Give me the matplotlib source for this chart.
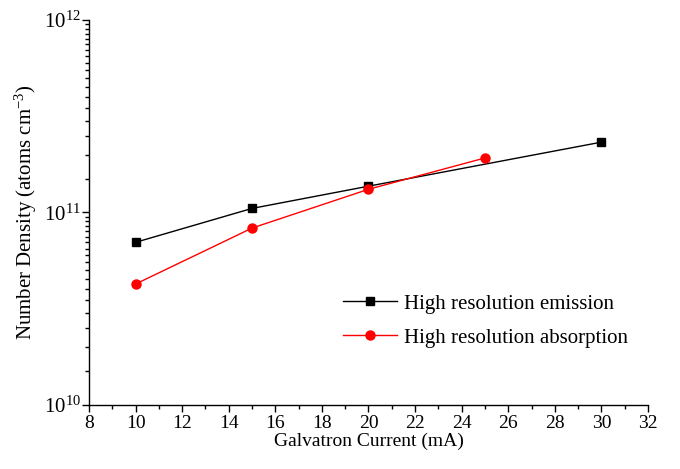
import math
import numpy as np
import matplotlib
matplotlib.use("Agg")
import matplotlib.pyplot as plt
from matplotlib.ticker import LogLocator, FuncFormatter, MultipleLocator, NullFormatter

plt.rcParams['font.family'] = ['Liberation Serif', 'DejaVu Serif']
plt.rcParams['mathtext.fontset'] = 'custom'
plt.rcParams['mathtext.rm'] = 'Liberation Serif'
plt.rcParams['mathtext.it'] = 'Liberation Serif:italic'

current_emission = [10, 15, 20, 30]
density_emission = [7.0e10, 1.05e11, 1.37e11, 2.32e11]
current_absorption = [10, 15, 20, 25]
density_absorption = [4.25e10, 8.3e10, 1.32e11, 1.92e11]
label_emission = "High resolution emission"
label_absorption = "High resolution absorption"
xlabel = "Galvatron Current (mA)"
ylabel = r"Number Density (atoms cm$^{-3}$)"

fig = plt.figure(figsize=(6.8, 4.69), dpi=100)
ax = fig.add_axes([89/680, 1-405/469, (648-89)/680, (405-20)/469])

ax.plot(current_emission, density_emission, color='black', lw=1.0, marker='s',
        markersize=6, label=label_emission)
ax.plot(current_absorption, density_absorption, color='red', lw=1.0, marker='o',
        markersize=6.5, label=label_absorption)

ax.set_yscale('log')
ax.set_ylim(1e10, 1e12)
ax.set_xlim(8, 32)
ax.xaxis.set_major_locator(MultipleLocator(2))
ax.xaxis.set_minor_locator(MultipleLocator(1))
ax.yaxis.set_major_locator(LogLocator(base=10, numticks=10))
ax.yaxis.set_minor_locator(LogLocator(base=10, subs=np.arange(1.5, 10, 0.5), numticks=40))
ax.yaxis.set_minor_formatter(NullFormatter())
ax.yaxis.set_major_formatter(FuncFormatter(lambda v, p: r'$\mathregular{10^{%d}}$' % round(math.log10(v))))

for s in ['top', 'right']:
    ax.spines[s].set_visible(False)
for s in ['left', 'bottom']:
    ax.spines[s].set_linewidth(1.0)

ax.tick_params(which='major', direction='out', length=5, width=1)
ax.tick_params(which='minor', direction='out', length=3, width=1)
ax.tick_params(axis='x', which='major', labelsize=14, pad=2)
ax.tick_params(axis='y', which='major', labelsize=15, pad=1)

ax.set_xlabel(xlabel, fontsize=14, labelpad=1)
ax.set_ylabel(ylabel, fontsize=15, labelpad=3)

ax.legend(loc='lower right', bbox_to_anchor=(0.997, 0.10), frameon=False, fontsize=15,
          handlelength=2.6, handletextpad=0.3, labelspacing=0.7)

fig.savefig('out.png', dpi=100)
